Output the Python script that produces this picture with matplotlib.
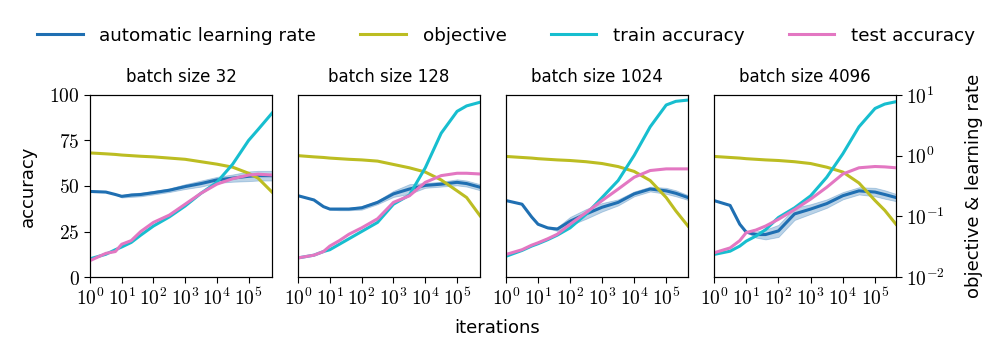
import numpy as np
import matplotlib
matplotlib.use("Agg")
import matplotlib.pyplot as plt
from matplotlib.ticker import FixedLocator, FuncFormatter, NullLocator

plt.rcParams['font.family'] = ['DejaVu Sans']
plt.rcParams['mathtext.fontset'] = 'cm'

# colours
c_lr = '#1f6fb2'
c_obj = '#bcbd22'
c_train = '#17becf'
c_test = '#e377c2'

batch_sizes = [32, 128, 1024, 4096]

# log10(iteration) grid for each panel (last point = end of training)
grid = [0, 0.5, 0.8, 1, 1.3, 1.6, 2, 2.5, 3, 3.5, 4, 4.5, 5, 5.3]
ends = [5.74, 5.72, 5.68, 5.65]

# accuracies in percent
train_acc = [
    [10, 12.5, 15, 16.5, 19, 23, 28, 33, 39, 46, 52, 62, 75, 81, 90],
    [10.5, 12, 14, 15, 18, 21, 25, 30, 40, 45, 60, 79, 91, 94, 96],
    [11.4, 14.6, 17, 18.3, 20.5, 23, 27, 34.5, 43.7, 53, 66.8, 82.5, 94.5, 96.5, 97.2],
    [12.4, 14.2, 17, 19.7, 22.5, 26, 32.7, 38, 44.6, 54.8, 67.7, 82.5, 92.6, 95, 96.3],
]
test_acc = [
    [9, 13, 14, 18, 20, 25, 30, 34, 40, 46, 51, 54, 56, 56.5, 56],
    [10.5, 12, 14, 17, 20, 23.5, 27, 32, 41, 44.6, 52, 55.7, 57, 57, 56.6],
    [12.4, 15, 17.5, 18.8, 21, 23.5, 29, 35.4, 42, 48.3, 54.8, 58.5, 59.4, 59.4, 59.4],
    [13.3, 16, 20, 24.4, 25.8, 28, 31.7, 37, 42.8, 49.3, 56.6, 60, 60.7, 60.5, 60],
]
# log10 of objective and learning rate
log_obj = [
    [0.045, 0.03, 0.02, 0.01, 0.0, -0.01, -0.02, -0.04, -0.06, -0.1, -0.14, -0.19, -0.29, -0.37, -0.6],
    [0.0, -0.02, -0.03, -0.04, -0.05, -0.06, -0.07, -0.09, -0.145, -0.2, -0.27, -0.4, -0.58, -0.69, -0.99],
    [-0.013, -0.03, -0.04, -0.05, -0.06, -0.07, -0.08, -0.1, -0.13, -0.18, -0.26, -0.41, -0.69, -0.91, -1.16],
    [-0.013, -0.03, -0.04, -0.05, -0.06, -0.07, -0.08, -0.1, -0.13, -0.19, -0.27, -0.45, -0.74, -0.9, -1.13],
]
log_lr = [
    [-0.59, -0.6, -0.64, -0.67, -0.65, -0.64, -0.61, -0.57, -0.51, -0.46, -0.4, -0.37, -0.34, -0.33, -0.33],
    [-0.66, -0.73, -0.84, -0.88, -0.88, -0.88, -0.86, -0.77, -0.63, -0.55, -0.49, -0.47, -0.44, -0.46, -0.52],
    [-0.74, -0.8, -1.01, -1.13, -1.19, -1.21, -1.08, -0.96, -0.85, -0.77, -0.63, -0.55, -0.58, -0.62, -0.69],
    [-0.74, -0.82, -1.13, -1.26, -1.3, -1.3, -1.24, -0.96, -0.88, -0.79, -0.66, -0.58, -0.6, -0.64, -0.69],
]
# half width of the learning rate spread (log10)
lr_spread = [
    [0, 0, 0, 0.02, 0.03, 0.03, 0.03, 0.03, 0.04, 0.05, 0.05, 0.06, 0.08, 0.08, 0.08],
    [0, 0, 0, 0.01, 0.02, 0.02, 0.03, 0.03, 0.05, 0.08, 0.04, 0.04, 0.05, 0.05, 0.05],
    [0, 0, 0, 0, 0.01, 0.03, 0.07, 0.08, 0.07, 0.05, 0.04, 0.04, 0.05, 0.05, 0.04],
    [0, 0, 0, 0, 0.05, 0.08, 0.1, 0.1, 0.08, 0.07, 0.06, 0.06, 0.07, 0.07, 0.06],
]

fig = plt.figure(figsize=(10, 3.57), dpi=100)
lefts = [0.09, 0.298, 0.506, 0.714]
tick_fmt_log = FuncFormatter(lambda v, p: r'$10^{%d}$' % round(np.log10(v)))

for i, bs in enumerate(batch_sizes):
    ax = fig.add_axes([lefts[i], 0.224, 0.182, 0.51])
    ax2 = ax.twinx()
    x = 10 ** np.array(grid + [ends[i]])

    lr = np.array(log_lr[i])
    sp = np.array(lr_spread[i])
    ax2.fill_between(x, 10 ** (lr - sp), 10 ** (lr + sp), color=c_lr, alpha=0.3, lw=0.6)
    ax2.plot(x, 10 ** lr, color=c_lr, lw=2.2, label='automatic learning rate')
    ax2.plot(x, 10 ** np.array(log_obj[i]), color=c_obj, lw=2.2, label='objective')
    ax.plot(x, train_acc[i], color=c_train, lw=2.2, label='train accuracy')
    ax.plot(x, test_acc[i], color=c_test, lw=2.2, label='test accuracy')

    ax.set_zorder(ax2.get_zorder() + 1)
    ax.patch.set_visible(False)

    ax.set_xscale('log')
    ax.set_xlim(1, 10 ** ends[i])
    ax.xaxis.set_major_locator(FixedLocator([10 ** k for k in range(6)]))
    ax.xaxis.set_minor_locator(NullLocator())
    ax.xaxis.set_major_formatter(tick_fmt_log)
    ax.set_ylim(0, 100)
    ax.set_yticks([0, 25, 50, 75, 100])
    ax.yaxis.set_major_formatter(FuncFormatter(lambda v, p: r'$\mathrm{%d}$' % v))
    ax.tick_params(labelsize=14, length=4.5, pad=3)

    ax2.set_yscale('log')
    ax2.set_ylim(1e-2, 1e1)
    ax2.yaxis.set_major_locator(FixedLocator([1e-2, 1e-1, 1e0, 1e1]))
    ax2.yaxis.set_minor_locator(NullLocator())
    ax2.yaxis.set_major_formatter(tick_fmt_log)
    ax2.tick_params(labelsize=14, length=4.5, pad=3)

    if i != 0:
        ax.tick_params(axis='y', left=False, labelleft=False)
    else:
        ax.set_ylabel('accuracy', fontsize=13, labelpad=9)
    if i != 3:
        ax2.tick_params(axis='y', right=False, labelright=False)
    else:
        ax2.set_ylabel('objective & learning rate', fontsize=13, labelpad=14)

    ax.set_title(f'batch size {bs}', fontsize=12, pad=9)

    if i == 0:
        h2, l2 = ax2.get_legend_handles_labels()
        h1, l1 = ax.get_legend_handles_labels()
        fig.legend(h2 + h1, l2 + l1, loc='center', bbox_to_anchor=(0.506, 0.9),
                   ncol=4, frameon=False, fontsize=13.2, handlelength=2.5,
                   handletextpad=0.9, columnspacing=2.4)

fig.text(0.497, 0.08, 'iterations', ha='center', va='center', fontsize=13)

fig.savefig('out.png', dpi=100)
